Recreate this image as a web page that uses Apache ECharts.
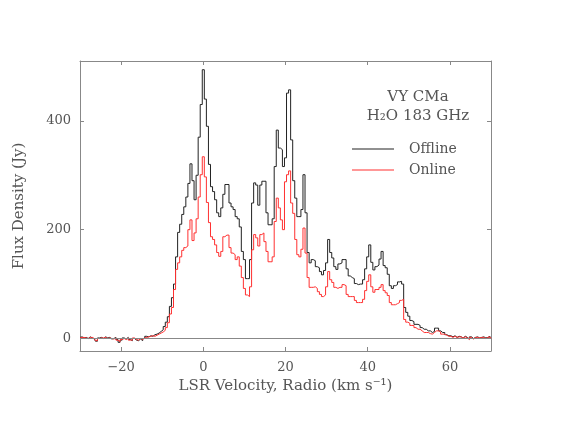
<!DOCTYPE html>
<html>
<head>
<meta charset="utf-8">
<script src="https://cdn.jsdelivr.net/npm/echarts@6/dist/echarts.min.js"></script>
<style>
html,body{margin:0;padding:0;background:#fff;}
#chart{width:564px;height:436px;}
</style>
</head>
<body>
<div id="chart"></div>
<script>
// channel grid: first velocity and channel width (km/s)
const v0 = -30;
const dv = 0.5;

// Offline spectrum (Jy), one value per channel, 10 per row = 5 km/s
const offline = [
    2, 3, 1, 2, 0, 3, 1, -1, -5, 1,
    2, 0, 3, 1, 2, -1, 0, 2, -2, -7,
    -3, 1, -1, 2, -2, -4, 0, -3, -4, -1,
    -4, 0, 4, 3, 5, 4, 7, 8, 10, 13,
    16, 22, 30, 40, 59, 75, 100, 150, 195, 210,
    228, 242, 260, 285, 321, 290, 255, 300, 370, 430,
    494, 440, 390, 320, 279, 270, 255, 231, 224, 240,
    265, 283, 283, 249, 242, 237, 224, 220, 205, 160,
    145, 110, 110, 145, 249, 286, 282, 245, 282, 289,
    289, 231, 209, 209, 220, 316, 383, 350, 347, 316,
    332, 451, 457, 365, 290, 258, 224, 224, 237, 301,
    231, 158, 139, 145, 143, 132, 130, 123, 117, 125,
    139, 182, 158, 148, 132, 127, 137, 139, 145, 145,
    128, 115, 112, 110, 101, 99, 100, 100, 108, 128,
    150, 172, 140, 126, 132, 135, 146, 160, 134, 130,
    118, 97, 92, 97, 99, 104, 105, 100, 57, 48,
    41, 33, 31, 26, 26, 24, 20, 17, 17, 14,
    14, 11, 13, 19, 19, 14, 11, 11, 7, 5,
    5, 3, 5, 2, 4, 3, 1, 4, 2, -1,
    3, 0, 2, 3, 1, 2, 3, 1, 2, 4,
    0
];

// Online spectrum (Jy)
const online = [
    1, 2, 2, 1, 0, 2, 2, 0, -4, 0,
    1, 1, 2, 0, 1, 0, -1, 1, -3, -6,
    -2, 0, -2, 1, -3, -3, 1, -2, -3, 0,
    -2, 1, 2, 3, 4, 5, 4, 6, 8, 10,
    12, 15, 20, 29, 45, 57, 90, 127, 139, 150,
    162, 167, 170, 200, 218, 180, 194, 220, 260, 301,
    334, 297, 250, 213, 187, 182, 172, 158, 151, 160,
    187, 190, 190, 167, 157, 154, 145, 150, 133, 112,
    92, 80, 77, 95, 163, 191, 185, 170, 191, 194,
    178, 160, 141, 141, 150, 215, 258, 240, 218, 200,
    288, 301, 308, 249, 230, 182, 154, 150, 164, 203,
    157, 112, 94, 94, 95, 92, 86, 81, 77, 80,
    95, 123, 108, 103, 94, 92, 94, 94, 99, 97,
    81, 77, 77, 77, 70, 66, 66, 66, 72, 88,
    105, 117, 95, 85, 90, 90, 94, 99, 88, 84,
    79, 66, 62, 62, 64, 66, 70, 72, 35, 30,
    28, 24, 24, 20, 17, 17, 14, 11, 11, 11,
    9, 8, 11, 14, 14, 12, 8, 8, 6, 4,
    4, 2, 4, 2, 3, 3, 1, 3, 1, -2,
    2, -1, 2, 2, 1, 2, 2, 0, 2, 3,
    0
];

const xTicks = [-20, 0, 20, 40, 60];
const yTicks = [0, 200, 400];
const seriesNames = ['Offline', 'Online'];

const velocity = offline.map((_, i) => v0 + i * dv);

const font = 'DejaVu Serif';
const textColor = '#555';
const axisColor = '#888';

var Chart = echarts.init(document.getElementById('chart'));

function xAxisDef(pos, labels){
    return {
        type: 'value',
        position: pos,
        min: -30,
        max: 70,
        splitLine: {show: false},
        axisLine: {show: true, onZero: false, lineStyle: {color: axisColor, width: 1}},
        axisTick: {show: true, inside: true, length: 4, customValues: xTicks, lineStyle: {color: axisColor}},
        axisLabel: {
            show: labels,
            customValues: xTicks,
            margin: 10,
            color: textColor,
            fontFamily: font,
            fontSize: 13,
            formatter: function(v){ return String(v).replace('-', '\u2212'); }
        }
    };
}

function yAxisDef(pos, labels){
    return {
        type: 'value',
        position: pos,
        min: -23,
        max: 510,
        splitLine: {show: false},
        axisLine: {show: true, onZero: false, lineStyle: {color: axisColor, width: 1}},
        axisTick: {show: true, inside: true, length: 4, customValues: yTicks, lineStyle: {color: axisColor}},
        axisLabel: {
            show: labels,
            customValues: yTicks,
            margin: 9,
            color: textColor,
            fontFamily: font,
            fontSize: 13
        }
    };
}

var xBottom = xAxisDef('bottom', true);
xBottom.name = 'LSR Velocity, Radio (km s\u207B\u00B9)';
xBottom.nameLocation = 'middle';
xBottom.nameGap = 25;
xBottom.nameTextStyle = {color: textColor, fontFamily: font, fontSize: 15};

var yLeft = yAxisDef('left', true);
yLeft.name = 'Flux Density (Jy)';
yLeft.nameLocation = 'middle';
yLeft.nameGap = 53;
yLeft.nameTextStyle = {color: textColor, fontFamily: font, fontSize: 15};

var xTop = xAxisDef('top', false);
var yRight = yAxisDef('right', false);

var option = {
    animation: false,
    backgroundColor: '#fff',
    grid: {left: 80, right: 73, top: 61, bottom: 85},
    xAxis: [xBottom, xTop],
    yAxis: [yLeft, yRight],
    legend: {
        orient: 'vertical',
        left: 347,
        top: 137,
        itemWidth: 42,
        itemHeight: 1,
        itemGap: 7,
        icon: 'rect',
        textStyle: {color: textColor, fontFamily: font, fontSize: 14, padding: [0, 0, 0, 10]},
        data: seriesNames
    },
    graphic: [
        {type: 'text', x: 418, y: 97, style: {text: 'VY CMa', fill: textColor, font: '15px "DejaVu Serif"', textAlign: 'center', textVerticalAlign: 'middle'}},
        {type: 'text', x: 418, y: 116, style: {text: 'H\u2082O 183 GHz', fill: textColor, font: '15px "DejaVu Serif"', textAlign: 'center', textVerticalAlign: 'middle'}}
    ],
    series: [
        {
            name: seriesNames[0],
            type: 'line',
            step: 'middle',
            showSymbol: false,
            color: '#222',
            lineStyle: {width: 1, color: '#222'},
            data: velocity.map((v, i) => [v, offline[i]]),
            markLine: {
                silent: true,
                symbol: 'none',
                label: {show: false},
                lineStyle: {color: axisColor, width: 1, type: 'solid'},
                data: [{yAxis: 0}]
            },
            z: 2
        },
        {
            name: seriesNames[1],
            type: 'line',
            step: 'middle',
            showSymbol: false,
            color: '#ff3030',
            lineStyle: {width: 1, color: '#ff3030'},
            data: velocity.map((v, i) => [v, online[i]]),
            z: 3
        }
    ]
};

Chart.setOption(option);
</script>
</body>
</html>
